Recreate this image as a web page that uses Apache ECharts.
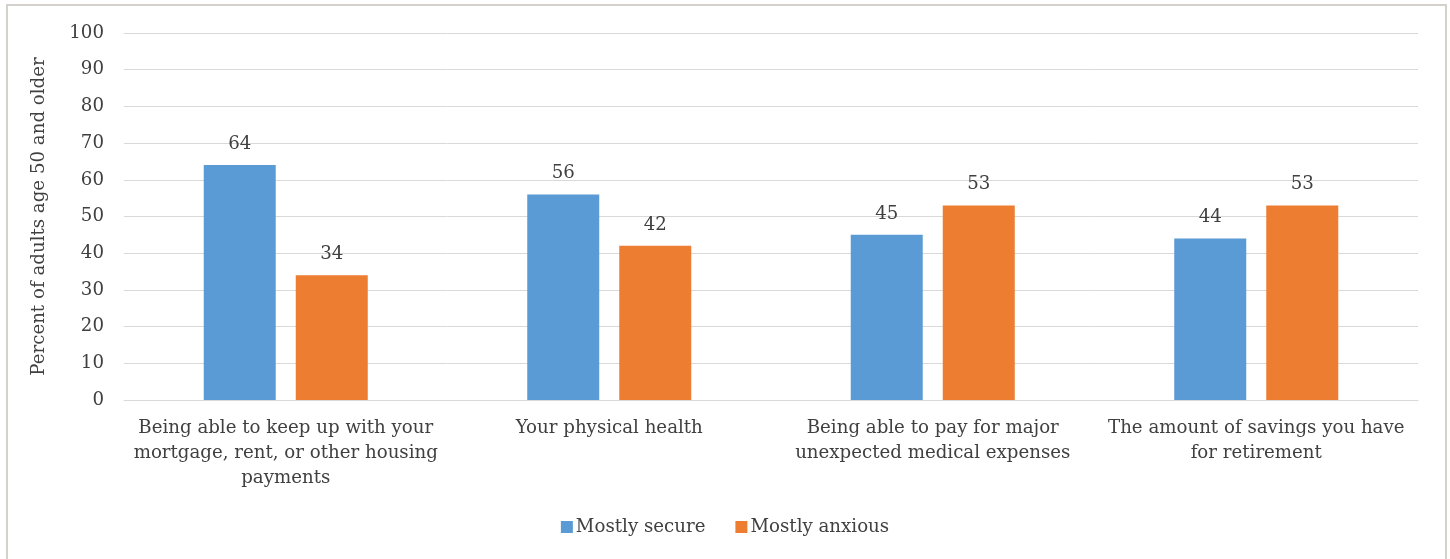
<!DOCTYPE html>
<html>
<head>
<meta charset="utf-8">
<script src="https://cdn.jsdelivr.net/npm/echarts@6/dist/echarts.min.js"></script>
<style>
  html, body { margin: 0; padding: 0; background: #fff; }
  #chart { width: 1450px; height: 559px; }
</style>
</head>
<body>
<div id="chart"></div>
<script>
// Share of adults 50+ who feel secure vs. anxious about each topic
const categories = [
  'Being able to keep up with your\nmortgage, rent, or other housing\npayments',
  'Your physical health',
  'Being able to pay for major\nunexpected medical expenses',
  'The amount of savings you have\nfor retirement'
];
const secureValues = [64, 56, 45, 44];
const anxiousValues = [34, 42, 53, 53];
const seriesNames = ['Mostly secure', 'Mostly anxious'];
const yAxisTitle = 'Percent of adults age 50 and older';

const FONT = '"DejaVu Serif", serif';
const TEXT = '#404040';
const FS = 18.2;

const chart = echarts.init(document.getElementById('chart'));

const labelStyle = {
  show: true,
  position: 'top',
  distance: 12,
  color: TEXT,
  fontFamily: FONT,
  fontSize: FS
};

chart.setOption({
  animation: false,
  backgroundColor: '#fff',
  textStyle: { fontFamily: FONT, color: TEXT },
  graphic: [{
    type: 'rect',
    silent: true,
    shape: { x: 7, y: 5, width: 1439, height: 570 },
    style: { fill: 'none', stroke: '#d4d0cc', lineWidth: 2 }
  }],
  grid: { left: 124, right: 32, top: 33, bottom: 159 },
  legend: {
    bottom: 18,
    left: 'center',
    itemWidth: 12,
    itemHeight: 12,
    itemGap: 30,
    icon: 'rect',
    textStyle: { color: TEXT, fontFamily: FONT, fontSize: FS, padding: [0, 0, 0, -2] },
    data: seriesNames
  },
  xAxis: {
    type: 'category',
    data: categories,
    axisLine: { show: true, lineStyle: { color: '#d9d9d9', width: 1 } },
    axisTick: { show: false },
    axisLabel: {
      color: TEXT,
      fontFamily: FONT,
      fontSize: FS,
      lineHeight: 25,
      margin: 16,
      interval: 0
    }
  },
  yAxis: {
    type: 'value',
    min: 0,
    max: 100,
    interval: 10,
    name: yAxisTitle,
    nameLocation: 'middle',
    nameGap: 76,
    nameTextStyle: { color: TEXT, fontFamily: FONT, fontSize: FS },
    axisLine: { show: false },
    axisTick: { show: false },
    axisLabel: { color: TEXT, fontFamily: FONT, fontSize: FS, margin: 20 },
    splitLine: { lineStyle: { color: '#d9d9d9', width: 1 } }
  },
  series: [
    {
      name: seriesNames[0],
      type: 'bar',
      data: secureValues,
      barWidth: 72,
      barGap: '27.8%',
      itemStyle: { color: '#5b9bd5' },
      label: labelStyle
    },
    {
      name: seriesNames[1],
      type: 'bar',
      data: anxiousValues,
      barWidth: 72,
      barGap: '27.8%',
      itemStyle: { color: '#ed7d31' },
      label: labelStyle
    }
  ]
});
</script>
</body>
</html>
